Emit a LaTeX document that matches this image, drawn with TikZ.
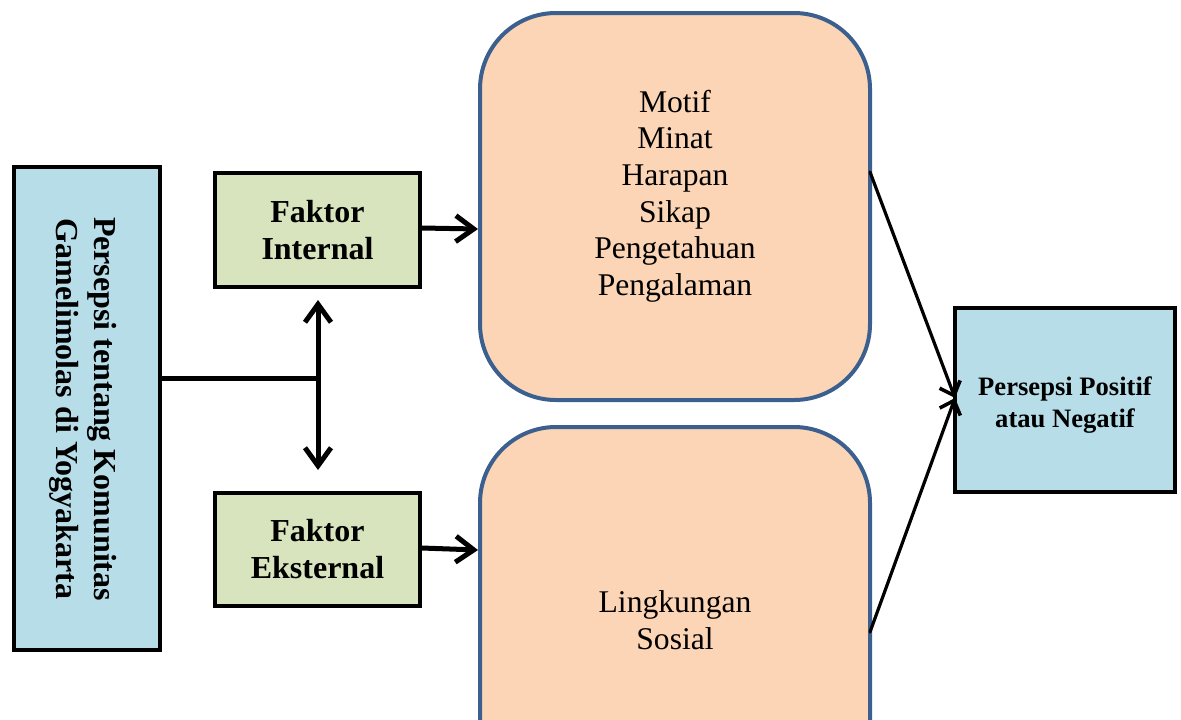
\documentclass[tikz,border=0pt]{standalone}
\usepackage{fontspec}
\setmainfont{Liberation Serif}
\usetikzlibrary{arrows.meta}
\definecolor{lblue}{HTML}{B7DDE8}
\definecolor{lgreen}{HTML}{D7E4BD}
\definecolor{peach}{HTML}{FBD5B5}
\definecolor{bborder}{HTML}{3B5F8E}
\begin{document}
\begin{tikzpicture}[x=0.5pt,y=-0.5pt,
  sqbox/.style={draw=black,line width=2pt,inner sep=0pt,align=center},
  rbox/.style={draw=bborder,fill=peach,line width=2pt,rounded corners=38pt,inner sep=0pt,minimum width=195pt,minimum height=193.5pt},
  conn/.style={line width=2.5pt,line cap=round,line join=round},
  thin/.style={line width=1.6pt,line cap=round,line join=round},
  bigtip/.style={-{Straight Barb[length=9pt,width=13pt,line width=2.5pt]}},
  smalltip/.style={-{Straight Barb[length=6pt,width=11pt,line width=1.8pt]}}
]
\useasboundingbox (0,0) rectangle (1181,719);
\clip (0,0) rectangle (1181,719);

% left box
\node[sqbox,fill=lblue,minimum width=73pt,minimum height=241.5pt] (src) at (87,408) {};
\node[rotate=-90,align=center,font=\bfseries\fontsize{16}{19}\selectfont] (srct) at (83,409)
  {Persepsi tentang Komunitas\\Gamelimolas di Yogyakarta};

% factor boxes
\node[sqbox,fill=lgreen,minimum width=102.5pt,minimum height=57pt,font=\bfseries\fontsize{16}{18.5}\selectfont] (fi) at (317.5,230) {Faktor\\Internal};
\node[sqbox,fill=lgreen,minimum width=102.5pt,minimum height=56.5pt,font=\bfseries\fontsize{16}{18.5}\selectfont] (fe) at (317.5,549.5) {Faktor\\Eksternal};

% rounded boxes
\node[rbox] (m1) at (675,206.5) {};
\node[align=center,font=\fontsize{15.8}{18.3}\selectfont] (m1t) at (675,196)
  {Motif\\Minat\\Harapan\\Sikap\\Pengetahuan\\Pengalaman};
\node[rbox] (m2) at (675,620.5) {};
\node[align=center,font=\fontsize{15.8}{18.3}\selectfont] (m2t) at (675,620)
  {Lingkungan\\Sosial};

% result box
\node[sqbox,fill=lblue,minimum width=110pt,minimum height=92pt] (res) at (1065,400) {};
\node[align=center,font=\bfseries\fontsize{13.3}{16}\selectfont] (rest) at (1065,405)
  {Persepsi Positif\\atau Negatif};

% connectors
\coordinate (j) at (318,378);
\coordinate (jt) at (318,300);
\coordinate (jb) at (318,470);
\draw[conn] (src.east |- j) -- (j);
\draw[conn,bigtip] (j) -- (jt);
\draw[conn,bigtip] (j) -- (jb);
\draw[conn,bigtip] (fi.east |- 0,228) -- (m1.west |- 0,229);
\draw[conn,bigtip] (fe.east |- 0,548) -- (m2.west |- 0,550);
\coordinate (a1) at (870,172);
\coordinate (a2) at (870,632);
\coordinate (rin) at (955,398);
\draw[thin,smalltip] (a1) -- (rin);
\draw[thin,smalltip] (a2) -- (rin);
\end{tikzpicture}
\end{document}
